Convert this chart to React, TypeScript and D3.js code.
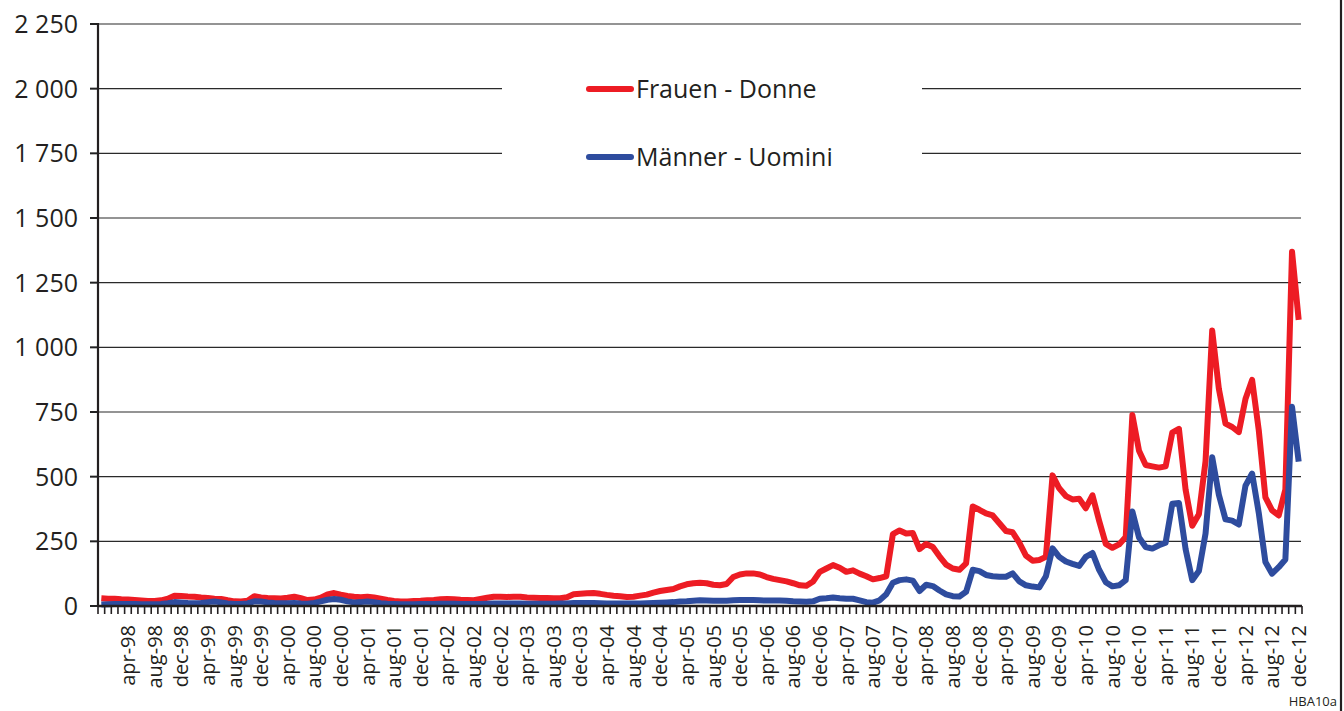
import React from "react";
import * as d3 from "d3";

const MONTHS = ["jan", "feb", "mar", "apr", "may", "jun", "jul", "aug", "sep", "oct", "nov", "dec"];
// categories: dec-97 .. dec-12 (monthly)
const categories: string[] = ["dec-97"];
for (let y = 1998; y <= 2012; y++) {
  for (const m of MONTHS) categories.push(`${m}-${String(y % 100).padStart(2, "0")}`);
}
const LABEL_EVERY = 4;

const frauen = [
  30, 28, 28, 26, 25, 23, 21, 19, 19, 22,
  28, 40, 39, 37, 36, 33, 31, 28, 27, 22,
  18, 17, 20, 38, 33, 31, 30, 29, 32, 36,
  30, 23, 25, 32, 45, 50, 44, 39, 36, 34,
  36, 33, 28, 23, 19, 17, 17, 19, 20, 22,
  23, 26, 27, 26, 24, 23, 22, 27, 32, 36,
  36, 35, 36, 36, 33, 32, 31, 31, 30, 30,
  34, 45, 47, 49, 50, 47, 43, 40, 38, 35,
  36, 40, 44, 52, 58, 62, 66, 76, 84, 88,
  90, 88, 82, 80, 85, 112, 122, 126, 126, 122,
  112, 105, 100, 95, 88, 80, 78, 95, 132, 145,
  158, 148, 132, 138, 125, 115, 103, 108, 115, 278,
  292, 280, 282, 220, 240, 228, 192, 160, 145, 140,
  165, 385, 372, 358, 350, 320, 290, 285, 245, 195,
  175, 178, 190, 505, 455, 425, 412, 415, 378, 428,
  330, 240, 225, 238, 267, 738, 600, 545, 540, 535,
  540, 670, 685, 450, 310, 355, 560, 1065, 840, 705,
  692, 672, 800, 874, 680, 420, 370, 350, 450, 1370,
  1106,
];

const maenner = [
  6, 7, 8, 8, 8, 8, 7, 7, 7, 8,
  11, 15, 14, 12, 11, 12, 15, 17, 14, 10,
  8, 8, 10, 18, 17, 14, 12, 11, 11, 12,
  10, 9, 12, 18, 24, 27, 24, 18, 14, 15,
  17, 15, 11, 9, 8, 7, 7, 7, 8, 8,
  8, 9, 9, 9, 8, 8, 8, 8, 9, 10,
  10, 10, 10, 10, 9, 9, 9, 9, 9, 10,
  10, 12, 12, 12, 12, 11, 10, 10, 10, 10,
  10, 10, 11, 12, 13, 14, 15, 17, 18, 20,
  22, 21, 20, 20, 20, 22, 23, 23, 23, 22,
  21, 21, 21, 20, 18, 17, 16, 18, 28, 30,
  33, 30, 28, 28, 22, 15, 13, 22, 45, 90,
  100, 103, 98, 58, 82, 77, 60, 45, 38, 37,
  55, 140, 135, 120, 115, 113, 113, 126, 95, 80,
  75, 72, 115, 223, 190, 172, 163, 155, 190, 205,
  140, 92, 76, 80, 100, 365, 265, 228, 222, 235,
  245, 395, 398, 220, 100, 135, 280, 575, 430, 335,
  330, 315, 465, 512, 360, 170, 125, 150, 180, 770,
  558,
];

const Y_TICKS = [0, 250, 500, 750, 1000, 1250, 1500, 1750, 2000, 2250];
const SERIES = [
  { name: "Frauen - Donne", values: frauen, color: "#ED1C24" },
  { name: "Männer - Uomini", values: maenner, color: "#2E4C9E" },
];

const W = 1344;
const H = 711;
const LEFT = 98;
const RIGHT = 1302;
const TOP = 24;
const BOTTOM = 606;
const FONT = "'Open Sans', 'Noto Sans', sans-serif";

const locale = d3.formatLocale({ decimal: ",", thousands: " ", grouping: [3], currency: ["", ""] });
const fmt = locale.format(",");

export default function App() {
  const x = d3.scaleBand<string>().domain(categories).range([LEFT, RIGHT]).padding(0);
  const y = d3.scaleLinear().domain([0, 2250]).range([BOTTOM, TOP]);
  const cx = (i: number) => (x(categories[i]) as number) + x.bandwidth() / 2;

  const line = d3
    .line<number>()
    .x((_, i) => cx(i))
    .y((d) => y(d));

  const boundaries = d3.range(categories.length + 1).map((i) => LEFT + i * x.bandwidth());

  return (
    <svg width={W} height={H} style={{ position: "absolute", left: 0, top: 0, background: "#fff" }} fontFamily={FONT}>
      <rect x={0} y={0} width={W} height={H} fill="#fff" />
      {/* gridlines */}
      {Y_TICKS.map((t) => (
        <line key={"g" + t} x1={LEFT} x2={RIGHT - 1} y1={y(t)} y2={y(t)} stroke="#2a2a2a" strokeWidth={1.1} />
      ))}
      {/* y ticks + labels */}
      {Y_TICKS.map((t) => (
        <g key={"yt" + t}>
          <line x1={90} x2={LEFT} y1={y(t)} y2={y(t)} stroke="#222" strokeWidth={2} />
          <text x={78} y={y(t)} dy="0.36em" textAnchor="end" fontSize={25} fill="#231f20">
            {fmt(t)}
          </text>
        </g>
      ))}
      {/* legend background */}
      <rect x={502} y={62} width={420} height={120} fill="#fff" />
      {/* series */}
      {SERIES.map((s) => (
        <path
          key={s.name}
          d={line(s.values) as string}
          fill="none"
          stroke={s.color}
          strokeWidth={6}
          strokeLinejoin="round"
        />
      ))}
      {/* axes */}
      <line x1={LEFT} x2={LEFT} y1={TOP - 1} y2={BOTTOM + 1} stroke="#231f20" strokeWidth={2.2} />
      <line x1={LEFT} x2={RIGHT} y1={BOTTOM} y2={BOTTOM} stroke="#231f20" strokeWidth={2.4} />
      {boundaries.map((bx, i) => (
        <line key={"xt" + i} x1={bx} x2={bx} y1={BOTTOM} y2={BOTTOM + 8} stroke="#231f20" strokeWidth={1.6} />
      ))}
      {categories.map((c, i) =>
        i > 0 && i % LABEL_EVERY === 0 ? (
          <text
            key={"xl" + c}
            transform={`translate(${cx(i)},${BOTTOM + 19}) rotate(-90)`}
            textAnchor="end"
            dy="0.36em"
            fontSize={20}
            fill="#231f20"
          >
            {c}
          </text>
        ) : null
      )}
      {/* legend */}
      {SERIES.map((s, k) => (
        <g key={"lg" + s.name}>
          <line x1={589} x2={631} y1={89 + k * 68} y2={89 + k * 68} stroke={s.color} strokeWidth={6} strokeLinecap="round" />
          <text x={636} y={89 + k * 68} dy="0.36em" fontSize={25} fill="#231f20">
            {s.name}
          </text>
        </g>
      ))}
      {/* frame right */}
      <line x1={1341} x2={1341} y1={0} y2={H} stroke="#231f20" strokeWidth={2.2} />
      <text x={1337} y={706} textAnchor="end" fontSize={13} fill="#231f20">
        HBA10a
      </text>
    </svg>
  );
}
